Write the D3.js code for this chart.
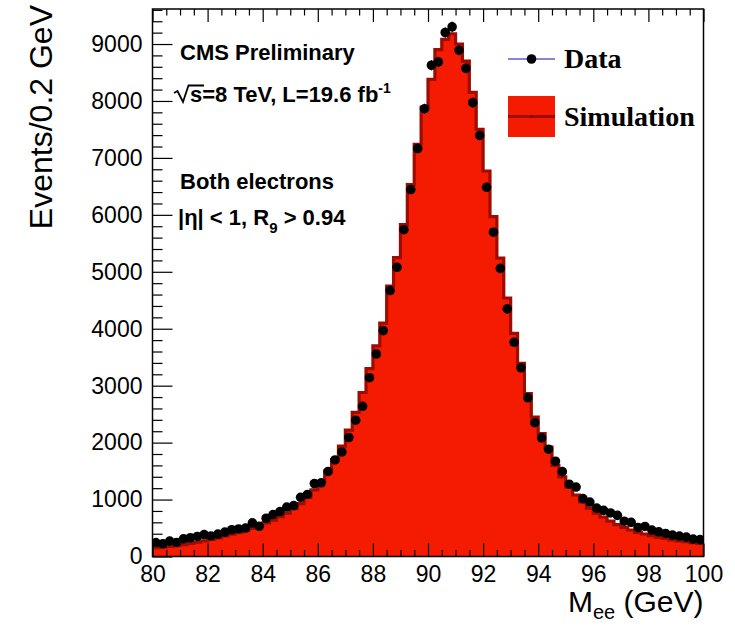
<!DOCTYPE html>
<html>
<head>
<meta charset="utf-8">
<script src="https://cdn.jsdelivr.net/npm/d3@7"></script>
<style>
  body { margin: 0; background: #fff; }
  svg text { font-family: "Liberation Sans", Arial, Helvetica, sans-serif; }
</style>
</head>
<body>
<svg id="chart" width="735" height="626"></svg>
<script>
// mass window and binning (GeV)
const massRange = [80, 100];
const binWidth = 0.25;

// data counts per bin
const dataCounts = [
  245, 223, 270, 247, 311, 329, 352, 385, 361, 393,
  428, 470, 484, 499, 590, 531, 672, 737, 789, 868,
  895, 1040, 1090, 1280, 1294, 1494, 1696, 1836, 2090, 2394,
  2638, 3140, 3556, 3967, 4671, 5080, 5739, 6444, 7165, 7864,
  8627, 8685, 9202, 9301, 8891, 8574, 7970, 7394, 6484, 5695,
  5060, 4349, 3762, 3315, 2787, 2350, 2083, 1884, 1673, 1490,
  1270, 1220, 1016, 956, 850, 810, 765, 722, 620, 600,
  510, 528, 464, 434, 405, 376, 358, 340, 305, 297
];

// simulation histogram per bin
const simCounts = [
  155, 165, 178, 192, 210, 230, 252, 275, 300, 328,
  360, 393, 425, 460, 500, 540, 590, 640, 700, 760,
  840, 930, 1040, 1170, 1320, 1500, 1700, 1940, 2220, 2530,
  2880, 3300, 3700, 4100, 4750, 5250, 5830, 6530, 7240, 7890,
  8380, 8900, 9080, 9180, 9000, 8700, 8150, 7500, 6770, 5970,
  5240, 4540, 3920, 3390, 2860, 2450, 2160, 1920, 1600, 1400,
  1220, 1080, 960, 850, 760, 690, 620, 560, 510, 465,
  425, 395, 365, 340, 318, 290, 275, 260, 245, 230
];

const xTicks = [80, 82, 84, 86, 88, 90, 92, 94, 96, 98, 100];
const yTicks = [0, 1000, 2000, 3000, 4000, 5000, 6000, 7000, 8000, 9000];
const yMax = 9615;

const svg = d3.select("#chart");
const padL = 152.5, padR = 703.5, padT = 9, padB = 556.5;

const x = d3.scaleLinear().domain(massRange).range([padL, padR]);
const y = d3.scaleLinear().domain([0, yMax]).range([padB, padT]);

const fillRed = "#f51b00";
const darkRed = "#9e0c00";
const errBlue = "#0a0ac8";

svg.append("defs").append("clipPath").attr("id", "plotclip")
  .append("rect").attr("x", padL).attr("y", padT)
  .attr("width", padR - padL).attr("height", padB - padT);

const plot = svg.append("g").attr("clip-path", "url(#plotclip)");

// simulation as step histogram
const simPts = simCounts.map((v, i) => [massRange[0] + i * binWidth, v]);
simPts.push([massRange[1], simCounts[simCounts.length - 1]]);

const area = d3.area()
  .x(d => x(d[0])).y0(y(0)).y1(d => y(d[1]))
  .curve(d3.curveStepAfter);

plot.append("path")
  .attr("d", area(simPts))
  .attr("fill", fillRed);

const outline = d3.line()
  .x(d => x(d[0])).y(d => y(d[1]))
  .curve(d3.curveStepAfter);

plot.append("path")
  .attr("d", outline(simPts))
  .attr("fill", "none")
  .attr("stroke", darkRed)
  .attr("stroke-width", 3.2);

// data: error bars + markers
const dataPts = dataCounts.map((v, i) => ({ m: massRange[0] + (i + 0.5) * binWidth, n: v }));

plot.selectAll(".err").data(dataPts).enter()
  .append("line")
  .attr("x1", d => x(d.m)).attr("x2", d => x(d.m))
  .attr("y1", d => y(d.n - Math.sqrt(d.n)))
  .attr("y2", d => y(d.n + Math.sqrt(d.n)))
  .attr("stroke", errBlue).attr("stroke-width", 1);

plot.selectAll(".pt").data(dataPts).enter()
  .append("circle")
  .attr("cx", d => x(d.m)).attr("cy", d => y(d.n))
  .attr("r", 4.8).attr("fill", "#000");

// axes
const minorX = d3.range(80, 100.001, 0.5).filter(v => Math.abs(v % 2) > 1e-6);
const minorY = d3.range(0, yMax, 200).filter(v => v % 1000 !== 0);

function styleAxis(g) {
  g.select(".domain").remove();
  g.selectAll("line").attr("stroke", "#000").attr("stroke-width", 1.2);
  g.selectAll("text").attr("fill", "#000").style("font-size", "23px")
    .style("font-family", "'Liberation Sans', Arial, sans-serif");
}

svg.append("g").attr("transform", `translate(0,${padB})`)
  .call(d3.axisBottom(x).tickValues(xTicks).tickSize(-13).tickPadding(9).tickFormat(d3.format("d")))
  .call(styleAxis);
svg.append("g").attr("transform", `translate(0,${padB})`)
  .call(d3.axisBottom(x).tickValues(minorX).tickSize(-6.5).tickFormat(""))
  .call(styleAxis);
svg.append("g").attr("transform", `translate(0,${padT})`)
  .call(d3.axisTop(x).tickValues(xTicks).tickSize(-13).tickFormat(""))
  .call(styleAxis);
svg.append("g").attr("transform", `translate(0,${padT})`)
  .call(d3.axisTop(x).tickValues(minorX).tickSize(-6.5).tickFormat(""))
  .call(styleAxis);
svg.append("g").attr("transform", `translate(${padL},0)`)
  .call(d3.axisLeft(y).tickValues(yTicks).tickSize(-20).tickPadding(10).tickFormat(d3.format("d")))
  .call(styleAxis);
svg.append("g").attr("transform", `translate(${padL},0)`)
  .call(d3.axisLeft(y).tickValues(minorY).tickSize(-10).tickFormat(""))
  .call(styleAxis);

// frame
svg.append("rect")
  .attr("x", padL).attr("y", padT)
  .attr("width", padR - padL).attr("height", padB - padT)
  .attr("fill", "none").attr("stroke", "#000").attr("stroke-width", 1.5);

// axis titles
svg.append("text")
  .attr("transform", "translate(52,5) rotate(-90)")
  .attr("text-anchor", "end")
  .style("font-size", "32px")
  .text("Events/0.2 GeV");

const xt = svg.append("text")
  .attr("x", padR).attr("y", 612)
  .attr("text-anchor", "end")
  .style("font-size", "30px");
xt.append("tspan").text("M");
xt.append("tspan").attr("dy", 7).style("font-size", "20px").text("ee");
xt.append("tspan").attr("dy", -7).text(" (GeV)");

// info text
const info = svg.append("g").style("font-weight", "bold").style("font-size", "22px");
info.append("text").attr("x", 180).attr("y", 60).text("CMS Preliminary");

info.append("path")
  .attr("d", "M174,93 L177.5,91 L183,102 L188.5,85.5 L204,85.5")
  .attr("fill", "none").attr("stroke", "#000").attr("stroke-width", 1.8);
const lum = info.append("text").attr("x", 190).attr("y", 102);
lum.append("tspan").text("s=8 TeV, L=19.6 fb");
lum.append("tspan").attr("dy", -9).style("font-size", "14px").text("-1");

info.append("text").attr("x", 180).attr("y", 189).text("Both electrons");
const cut = info.append("text").attr("x", 178).attr("y", 225);
cut.append("tspan").text("|η| < 1, R");
cut.append("tspan").attr("dy", 8).style("font-size", "15px").text("9");
cut.append("tspan").attr("dy", -8).text(" > 0.94");

// legend
const leg = svg.append("g");
leg.append("line").attr("x1", 508).attr("x2", 555).attr("y1", 59).attr("y2", 59)
  .attr("stroke", errBlue).attr("stroke-width", 1.2);
leg.append("circle").attr("cx", 531.5).attr("cy", 59).attr("r", 4.8).attr("fill", "#000");
leg.append("rect").attr("x", 508).attr("y", 96).attr("width", 47).attr("height", 41)
  .attr("fill", fillRed);
leg.append("line").attr("x1", 508).attr("x2", 555).attr("y1", 116.5).attr("y2", 116.5)
  .attr("stroke", darkRed).attr("stroke-width", 3.2);
leg.append("circle").attr("cx", 531.5).attr("cy", 116.5).attr("r", 0.8).attr("fill", "#000");

const legendLabels = ["Data", "Simulation"];
leg.selectAll(".lab").data(legendLabels).enter()
  .append("text")
  .attr("x", 564).attr("y", (d, i) => i === 0 ? 68 : 126)
  .style("font-family", "'Liberation Serif', 'Times New Roman', serif")
  .style("font-weight", "bold").style("font-size", "28px")
  .text(d => d);
</script>
</body>
</html>
